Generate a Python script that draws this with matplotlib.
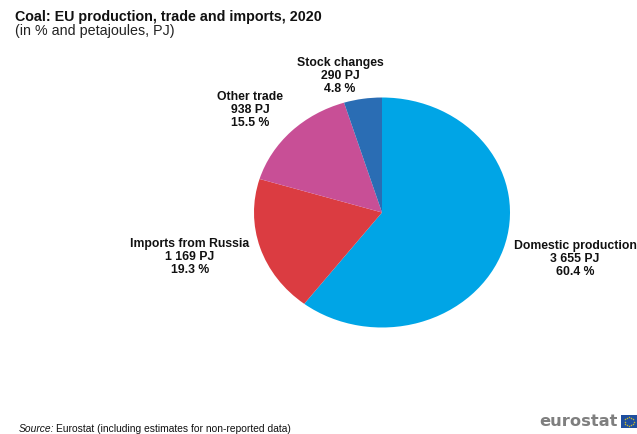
import numpy as np
import matplotlib
matplotlib.use("Agg")
import matplotlib.pyplot as plt

plt.rcParams['font.family'] = ['Liberation Sans', 'DejaVu Sans']

categories = ["Domestic production", "Imports from Russia", "Other trade", "Stock changes"]
energy_pj = [3655, 1169, 938, 290]
energy_labels = ["3 655 PJ", "1 169 PJ", "938 PJ", "290 PJ"]
shares = [60.4, 19.3, 15.5, 4.8]
colours = ["#00A5E6", "#DB3C41", "#C84F96", "#2A6DB4"]
label_xy = [(575, 259), (190, 257), (250, 110), (340, 76)]

W, H = 637, 434
fig = plt.figure(figsize=(W / 100, H / 100), dpi=100, facecolor="white")

# The pie is stretched horizontally: radii of 128 and 115 px around its centre
cx, cy, rx, ry = 382, 212.5, 128, 115
ax = fig.add_axes([(cx - rx) / W, 1 - (cy + ry) / H, 2 * rx / W, 2 * ry / H])
ax.pie(energy_pj, colors=colours, startangle=90, counterclock=False, radius=1)
ax.set_aspect("auto")
ax.set_xlim(-1, 1)
ax.set_ylim(-1, 1)
ax.axis("off")

def px_text(x, y, s, **kw):
    fig.text(x / W, 1 - y / H, s, **kw)

px_text(15, 17.5, "Coal: EU production, trade and imports, 2020",
        fontsize=10.25, fontweight="bold", color="#111111", va="center")
px_text(15, 31.5, "(in % and petajoules, PJ)", fontsize=10.3, color="#222222", va="center")

for name, pj, share, (x, y) in zip(categories, energy_labels, shares, label_xy):
    px_text(x, y, f"{name}\n{pj}\n{share} %", fontsize=8.8, fontweight="bold",
            color="#111111", ha="center", va="center", linespacing=1.08)

px_text(19, 428.5, "Source:", fontsize=7.4, style="italic", color="#111111", va="center")
px_text(56, 428.5, "Eurostat (including estimates for non-reported data)",
        fontsize=7.4, color="#111111", va="center")

# Wordmark and flag in the lower right corner
px_text(617.5, 421.5, "eurostat", fontsize=11.7, fontweight="bold", color="#7F7F7F",
        family="DejaVu Sans", ha="right", va="center")
flag = fig.add_axes([621 / W, 1 - 428 / H, 16 / W, 13 / H])
flag.set_xlim(0, 16)
flag.set_ylim(0, 13)
flag.set_facecolor("#1F4E9E")
flag.set_xticks([])
flag.set_yticks([])
for spine in flag.spines.values():
    spine.set_visible(False)
angles = np.deg2rad(np.arange(0, 360, 30))
flag.scatter(8 + 4.5 * np.cos(angles), 6.5 + 4.5 * np.sin(angles), s=1.2,
             color="#C9B92B", linewidths=0)

fig.savefig("out.png", dpi=100, facecolor="white")
